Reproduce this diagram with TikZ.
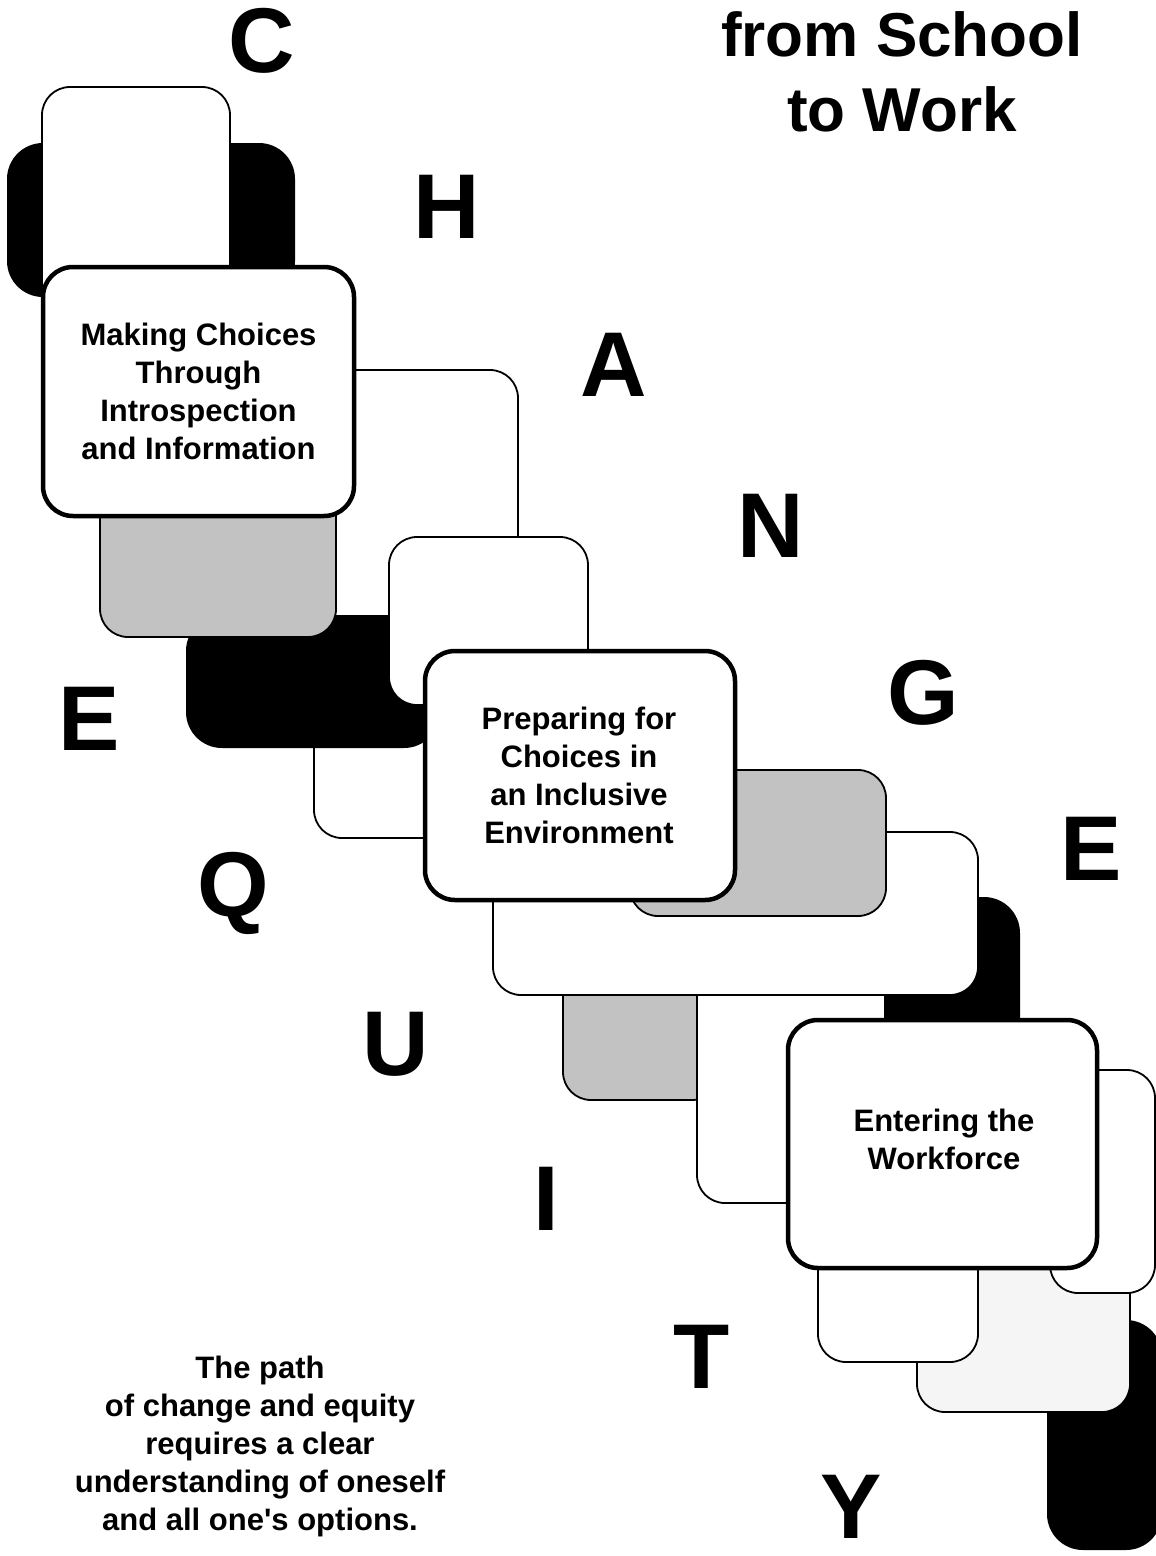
\documentclass[tikz,border=0pt]{standalone}
\usepackage{fontspec}
\setmainfont{Liberation Sans}
\begin{document}
\begin{tikzpicture}[x=1pt,y=-1pt,
  plainbox/.style={draw, line width=1.8pt, fill=white, rounded corners=28pt, inner sep=0pt, outer sep=0pt},
  speckbox/.style={plainbox, fill=black!24},
  faintbox/.style={plainbox, fill=black!4},
  darkbox/.style={fill=black, rounded corners=36pt, inner sep=0pt, outer sep=0pt},
  mainbox/.style={draw, line width=4.5pt, fill=white, rounded corners=30pt, inner sep=0pt, outer sep=0pt},
  boxtext/.style={align=center, font=\bfseries\fontsize{31}{38}\selectfont},
  bigletter/.style={anchor=base, inner sep=0pt, font=\bfseries\fontsize{92}{92}\selectfont},
  titletext/.style={align=center, font=\bfseries\fontsize{62}{75}\selectfont}
]
\useasboundingbox (0,0) rectangle (1156,1556);
\clip (0,0) rectangle (1156,1556);

% group 1
\node[darkbox, minimum width=288pt, minimum height=154pt] (b1) at (151,220) {};
\node[plainbox, minimum width=188pt, minimum height=243pt] (a1) at (136,208.5) {};
\node[plainbox, minimum width=318pt, minimum height=255pt] (c1) at (359,497.5) {};
\node[plainbox, minimum width=166pt, minimum height=138pt] (g1) at (397,769) {};
\node[darkbox, minimum width=254pt, minimum height=133pt] (e1) at (313,681.5) {};
\node[speckbox, minimum width=236pt, minimum height=157pt] (f1) at (218,558.5) {};
\node[plainbox, minimum width=199pt, minimum height=168pt] (d1) at (488.5,621) {};
\node[mainbox, minimum width=311pt, minimum height=249pt] (box1) at (198.5,391.5) {};
\node[boxtext] (t1) at (198.5,391) {Making Choices\\Through\\Introspection\\and Information};

% group 3 (back parts)
\node[darkbox, minimum width=115pt, minimum height=230pt] (p3) at (1104.5,1435) {};
\node[faintbox, minimum width=213pt, minimum height=162pt] (o3) at (1023.5,1331) {};
\node[plainbox, minimum width=160pt, minimum height=162pt] (n3) at (898,1281) {};
\node[plainbox, minimum width=105pt, minimum height=223pt] (m3) at (1102.5,1181.5) {};

% group 2
\node[darkbox, minimum width=160pt, minimum height=183pt] (j2) at (940,988.5) {};
\node[speckbox, minimum width=157pt, minimum height=150pt] (k2) at (641.5,1025) {};
\node[plainbox, minimum width=188pt, minimum height=253pt] (l2) at (791,1076.5) {};
\node[plainbox, minimum width=485pt, minimum height=163pt] (i2) at (735.5,913.5) {};
\node[speckbox, minimum width=256pt, minimum height=146pt] (h2) at (758,843) {};
\node[mainbox, minimum width=310pt, minimum height=249pt] (box2) at (580,775.5) {};
\node[boxtext] (t2) at (579,775) {Preparing for\\Choices in\\an Inclusive\\Environment};

% group 3 main
\node[mainbox, minimum width=309pt, minimum height=248pt] (box3) at (942.5,1144) {};
\node[boxtext] (t3) at (944,1139) {Entering the\\Workforce};

% letters
\node[bigletter] (lC) at (262,72) {C};
\node[bigletter] (lH) at (447,238) {H};
\node[bigletter] (lA) at (614,396) {A};
\node[bigletter] (lN) at (771,557) {N};
\node[bigletter] (lG) at (923,724) {G};
\node[bigletter] (lE) at (1091,880) {E};
\node[bigletter] (lE2) at (89,750) {E};
\node[bigletter] (lQ) at (233,916) {Q};
\node[bigletter] (lU) at (396,1075) {U};
\node[bigletter] (lI) at (546,1230) {I};
\node[bigletter] (lT) at (702,1388) {T};
\node[bigletter] (lY) at (851,1538) {Y};

% title and caption
\node[titletext] (title) at (902,72) {from School\\to Work};
\node[boxtext] (caption) at (260,1446) {The path\\of change and equity\\requires a clear\\understanding of oneself\\and all one\textquotesingle s options.};
\end{tikzpicture}
\end{document}
